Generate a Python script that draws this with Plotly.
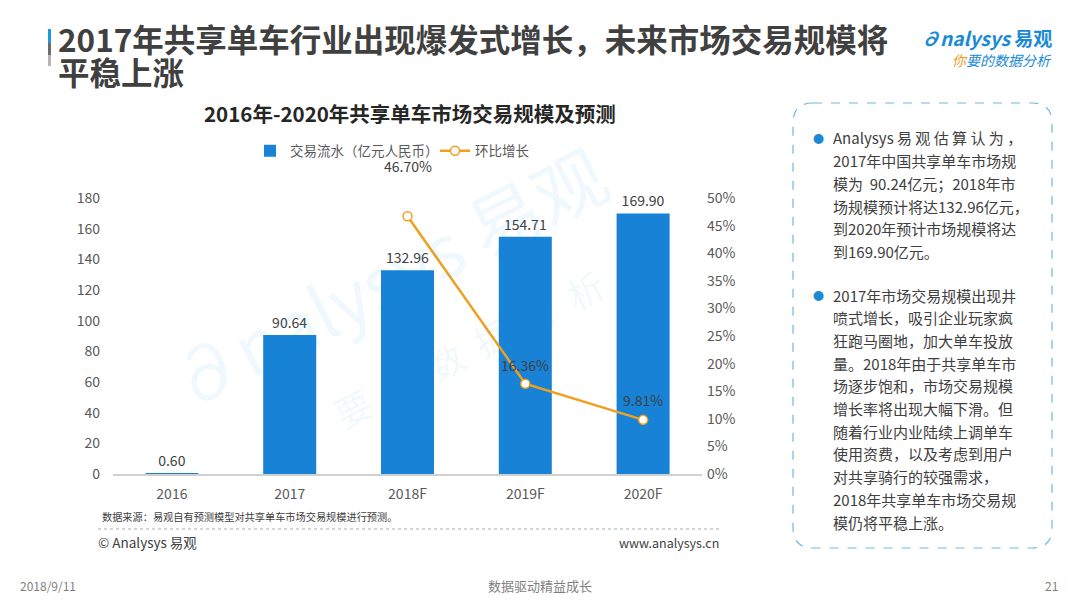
import plotly.graph_objects as go

# data
years = ["2016", "2017", "2018F", "2019F", "2020F"]
volume = [0.60, 90.64, 132.96, 154.71, 169.90]
growth_years = ["2018F", "2019F", "2020F"]
growth = [46.70, 16.36, 9.81]
growth_shift = [50, 19, 20]

left_ticks = [0, 20, 40, 60, 80, 100, 120, 140, 160, 180]
right_ticks = [0, 5, 10, 15, 20, 25, 30, 35, 40, 45, 50]
right_labels = [f"{t}%" for t in right_ticks]

FONT = "Noto Sans CJK SC"
W, H = 1080, 608
OFF = 8  # page body margin pushes the figure down/right


def px(x):
    return (x - OFF) / W


def py(y):
    return 1 - (y - OFF) / H


fig = go.Figure()

fig.add_trace(go.Bar(
    x=years, y=volume, name="交易流水（亿元人民币）",
    marker=dict(color="#1782d6", line=dict(width=0)),
    text=[f"{v:.2f}" for v in volume], textposition="outside",
    textfont=dict(size=14, color="#404040", family=FONT),
    cliponaxis=False,
))

fig.add_trace(go.Scatter(
    x=growth_years, y=growth, name="环比增长", yaxis="y2",
    mode="lines+markers",
    line=dict(color="#f0a01e", width=2.5),
    marker=dict(size=9, color="white", line=dict(color="#f0a01e", width=1.5)),
    cliponaxis=False,
))

annotations = []
for xv, yv, s in zip(growth_years, growth, growth_shift):
    annotations.append(dict(
        x=xv, y=yv, xref="x", yref="y2", text=f"{yv:.2f}%", showarrow=False,
        yshift=s, font=dict(size=14, color="#404040", family=FONT),
    ))


def note(x, y, text, size, color="#595959", xanchor="left", yanchor="middle", **kw):
    annotations.append(dict(
        x=px(x), y=py(y), xref="paper", yref="paper", text=text, showarrow=False,
        xanchor=xanchor, yanchor=yanchor, font=dict(size=size, color=color, family=FONT), **kw
    ))


# watermark (drawn first so it sits behind other notes)
note(385, 275, "∂nalysys 易观", 72, "rgba(30,150,220,0.07)", xanchor="center", textangle=-27)
note(445, 360, "<span style='color:rgba(240,160,30,0.10)'>你</span>  要  的  数  据  分  析",
     36, "rgba(30,150,220,0.07)", xanchor="center", textangle=-27)

# headline
note(56, 38, "<b>2017年共享单车行业出现爆发式增长，未来市场交易规模将</b>", 31.5, "#404040")
note(56, 71, "<b>平稳上涨</b>", 31.5, "#404040")

# logo
note(1054, 38, "<b><i>∂nalysys</i> 易观</b>", 19, "#1a8ad6", xanchor="right")
note(1054, 60, "<i><span style='color:#f29b1f'>你</span>要的数据分析</i>", 14, "#1a8ad6", xanchor="right")

# chart title
note(410, 113, "<b>2016年-2020年共享单车市场交易规模及预测</b>", 20.5, "#262626", xanchor="center")

# source and footer
note(100, 516, "数据来源：易观自有预测模型对共享单车市场交易规模进行预测。", 10.2, "#404040")
note(96, 542, "© Analysys 易观", 13.5, "#404040")
note(721, 542, "www.analysys.cn", 12.5, "#404040", xanchor="right")
note(18, 585, "2018/9/11", 12, "#7f7f7f")
note(540, 585, "数据驱动精益成长", 13, "#7f7f7f", xanchor="center")
note(1060, 585, "21", 12, "#7f7f7f", xanchor="right")

# text box
para1 = [
    "Analysys 易 观 估 算 认 为 ，",
    "2017年中国共享单车市场规",
    "模为  90.24亿元；2018年市",
    "场规模预计将达132.96亿元，",
    "到2020年预计市场规模将达",
    "到169.90亿元。",
]
para2 = [
    "2017年市场交易规模出现井",
    "喷式增长，吸引企业玩家疯",
    "狂跑马圈地，加大单车投放",
    "量。2018年由于共享单车市",
    "场逐步饱和，市场交易规模",
    "增长率将出现大幅下滑。但",
    "随着行业内业陆续上调单车",
    "使用资费，以及考虑到用户",
    "对共享骑行的较强需求，",
    "2018年共享单车市场交易规",
    "模仍将平稳上涨。",
]
for i, line in enumerate(para1):
    note(831, 138 + i * 22.7, line, 15, "#404040")
for i, line in enumerate(para2):
    note(831, 295 + i * 22.7, line, 15, "#404040")
note(818, 138, "●", 11, "#1a8ad6", xanchor="center")
note(818, 295, "●", 11, "#1a8ad6", xanchor="center")

shapes = [
    # headline marker
    dict(type="rect", xref="paper", yref="paper", x0=px(48), x1=px(51), y0=py(43), y1=py(29),
         fillcolor="#1a9ae0", line=dict(width=0)),
    dict(type="rect", xref="paper", yref="paper", x0=px(48), x1=px(51), y0=py(55), y1=py(43),
         fillcolor="#6b6b6b", line=dict(width=0)),
    dict(type="rect", xref="paper", yref="paper", x0=px(48), x1=px(51), y0=py(66), y1=py(55),
         fillcolor="#b5b5b5", line=dict(width=0)),
    # dotted separator
    dict(type="line", xref="paper", yref="paper", x0=px(98), x1=px(722), y0=py(529), y1=py(529),
         line=dict(color="#c8c8c8", width=1.5, dash="dot")),
    # dashed rounded box
    dict(type="path", xref="paper", yref="paper",
         path=(f"M {px(813)} {py(103)} L {px(1032)} {py(103)} "
               f"Q {px(1052)} {py(103)} {px(1052)} {py(123)} "
               f"L {px(1052)} {py(528)} Q {px(1052)} {py(548)} {px(1032)} {py(548)} "
               f"L {px(813)} {py(548)} Q {px(793)} {py(548)} {px(793)} {py(528)} "
               f"L {px(793)} {py(123)} Q {px(793)} {py(103)} {px(813)} {py(103)} Z"),
         line=dict(color="#6fb8e6", width=1.2, dash="dash")),
]

fig.update_layout(
    width=W, height=H,
    margin=dict(l=0, r=0, t=0, b=0, autoexpand=False),
    paper_bgcolor="white", plot_bgcolor="white",
    font=dict(family=FONT, color="#595959"),
    bargap=0.55,
    showlegend=True,
    legend=dict(orientation="h", x=px(250), y=py(151), xanchor="left", yanchor="middle",
                font=dict(size=13.5, color="#595959", family=FONT), bgcolor="rgba(0,0,0,0)",
                itemwidth=30, entrywidth=140, entrywidthmode="pixels"),
    xaxis=dict(domain=[px(113), px(702)], showgrid=False, showline=True, automargin=False,
               linecolor="#d0d0d0", linewidth=2, ticks="", ticklabelstandoff=6,
               tickfont=dict(size=14, color="#595959")),
    yaxis=dict(domain=[py(474), py(198)], range=[0, 180], tickvals=left_ticks,
               showgrid=False, zeroline=False, showline=False, automargin=False,
               tickfont=dict(size=14, color="#595959"), ticklabelstandoff=12),
    yaxis2=dict(overlaying="y", side="right", range=[0, 50], tickvals=right_ticks,
                ticktext=right_labels, showgrid=False, zeroline=False, showline=False,
                automargin=False, tickfont=dict(size=14, color="#595959"), anchor="x",
                ticklabelstandoff=4),
    annotations=annotations,
    shapes=shapes,
)

fig.write_html("out.html")
